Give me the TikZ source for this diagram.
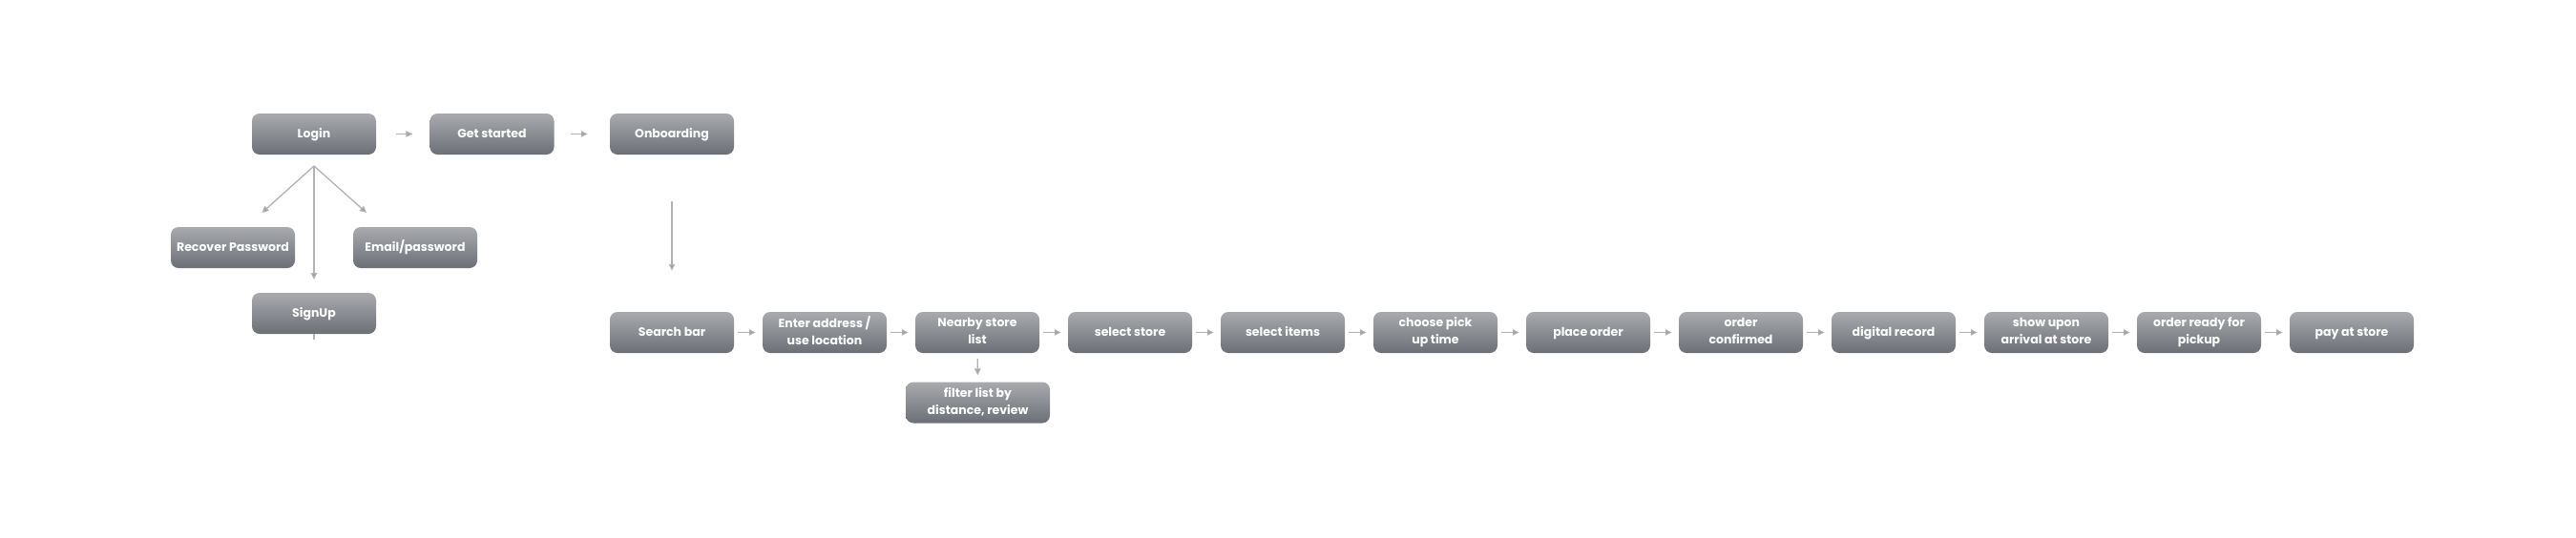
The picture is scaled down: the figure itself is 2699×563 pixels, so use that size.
\documentclass[tikz,border=0pt]{standalone}
\usepackage{fontspec}
\newfontfamily\boxfont{Poppins}
\usetikzlibrary{arrows.meta}
\definecolor{boxtop}{HTML}{A8AAAE}
\definecolor{boxbot}{HTML}{6C6F76}
\definecolor{linegray}{HTML}{B2B2B2}
\definecolor{headgray}{HTML}{9C9C9C}
\newcommand{\mystrut}{\rule[-4pt]{0pt}{15.8pt}}
\tikzset{
  box/.style={rounded corners=8pt, top color=boxtop, bottom color=boxbot, draw=none,
    minimum width=130pt, minimum height=43pt, align=center, text=white,
    font=\boxfont\bfseries\fontsize{12.5}{18}\selectfont, inner xsep=2pt, inner ysep=0pt,
    execute at begin node=\mystrut, execute at end node=\mystrut},
  arr/.style={draw=linegray, line width=1.3pt, -{Triangle[length=7pt,width=6.5pt,fill=headgray]}},
  plain/.style={draw=linegray, line width=1.3pt}
}
\begin{document}
\begin{tikzpicture}[x=1pt,y=1pt]
\useasboundingbox[fill=white] (0,0) rectangle (2699,-563);
\node[box] (login) at (329,-140.5) {Login};
\node[box] (get) at (515.5,-140.5) {Get started};
\node[box] (onb) at (704,-140.5) {Onboarding};
\node[box] (rec) at (244,-259.5) {Recover Password};
\node[box] (email) at (435,-259.5) {Email/password};
\node[box] (sign) at (329,-328.5) {SignUp};
\node[box] (search) at (704,-348.5) {Search bar};
\node[box] (enter) at (864,-348.5) {Enter address /\\use location};
\node[box] (near) at (1024,-348.5) {Nearby store\\list};
\node[box] (sstore) at (1184,-348.5) {select store};
\node[box] (sitems) at (1344,-348.5) {select items};
\node[box] (choose) at (1504,-348.5) {choose pick\\up time};
\node[box] (place) at (1664,-348.5) {place order};
\node[box] (conf) at (1824,-348.5) {order\\confirmed};
\node[box] (digital) at (1984,-348.5) {digital record};
\node[box] (show) at (2144,-348.5) {show upon\\arrival at store};
\node[box] (ready) at (2304,-348.5) {order ready for\\pickup};
\node[box] (pay) at (2464,-348.5) {pay at store};
\node[box, minimum width=151pt] (filter) at (1024.5,-422) {filter list by\\distance, review};
\coordinate (fan) at (329,-174);
\coordinate (tipL) at (274.5,-223);
\coordinate (tipR) at (384,-223);
\coordinate (tipD) at (329,-293);
\coordinate (stub) at (329,-356);
\draw[arr, shorten <=21pt, shorten >=18pt] (login) -- (get);
\draw[arr, shorten <=17pt, shorten >=23pt] (get) -- (onb);
\draw[arr] (fan) -- (tipL);
\draw[arr] (fan) -- (tipR);
\draw[arr] (fan) -- (tipD);
\draw[plain] (sign.south) -- (stub);
\draw[arr, shorten <=49pt, shorten >=43pt] (onb) -- (search);
\foreach \a/\b in {search/enter, enter/near, near/sstore, sstore/sitems, sitems/choose, choose/place, place/conf, conf/digital, digital/show, show/ready, ready/pay}{
  \draw[arr, shorten <=4pt, shorten >=7pt] (\a) -- (\b);
}
\draw[arr, shorten <=6pt, shorten >=7pt] (near) -- (filter);
\end{tikzpicture}
\end{document}
